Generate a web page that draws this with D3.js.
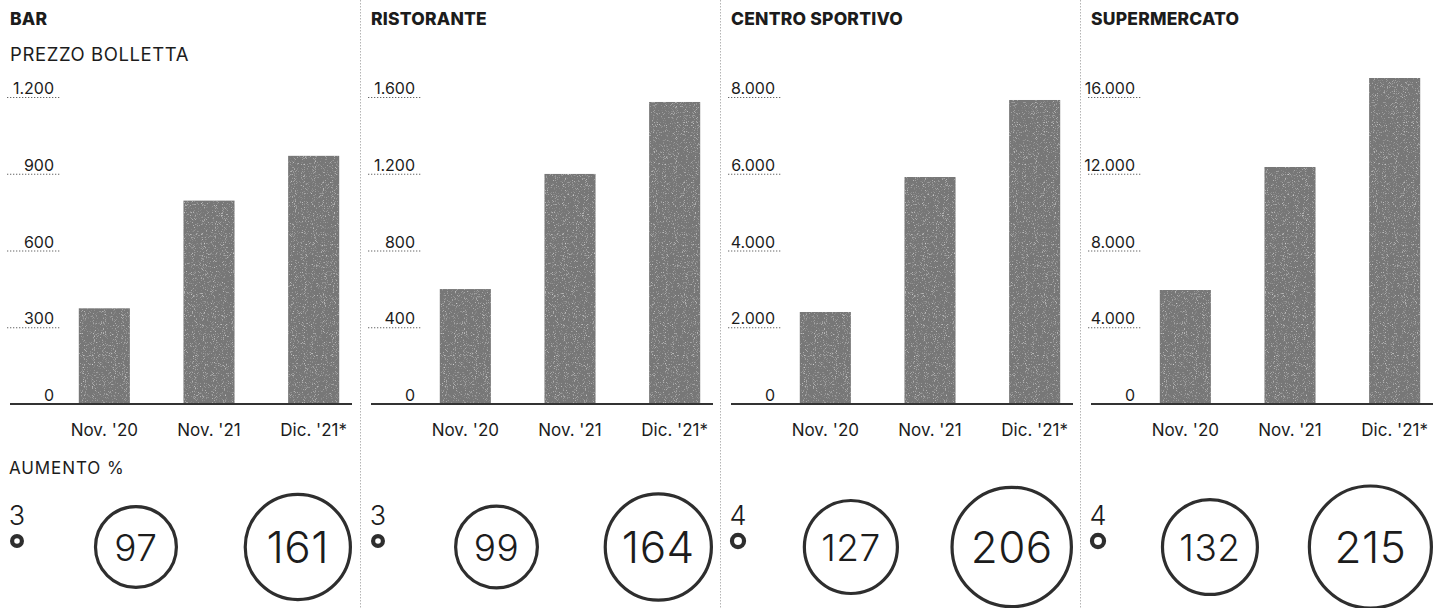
<!DOCTYPE html>
<html>
<head>
<meta charset="utf-8">
<script src="https://cdn.jsdelivr.net/npm/d3@7"></script>
<style>
  html, body { margin: 0; padding: 0; background: #fff; }
  svg { display: block; }
  text { font-family: "Inter", "Noto Sans", sans-serif; fill: #1c1c1c; }
</style>
</head>
<body>
<svg id="chart" width="1442" height="608"></svg>
<script>
// ---------- DATA ----------
const panelTitles = ["BAR", "RISTORANTE", "CENTRO SPORTIVO", "SUPERMERCATO"];
const categories = ["Nov. '20", "Nov. '21", "Dic. '21*"];

const barValues         = [374, 795, 970];
const ristoranteValues  = [599, 1199, 1574];
const centroValues      = [2397, 5915, 7922];
const supermercatoValues = [5941, 12352, 16990];

const barTicks          = [0, 300, 600, 900, 1200];
const ristoranteTicks   = [0, 400, 800, 1200, 1600];
const centroTicks       = [0, 2000, 4000, 6000, 8000];
const supermercatoTicks = [0, 4000, 8000, 12000, 16000];

const barPct          = [3, 97, 161];
const ristorantePct   = [3, 99, 164];
const centroPct       = [4, 127, 206];
const supermercatoPct = [4, 132, 215];

const subtitlePrice = "PREZZO BOLLETTA";
const subtitlePct = "AUMENTO %";

// ---------- LAYOUT ----------
const W = 1442, H = 608;
const panelW = 360;
const yBase = 404, yTop = 97;

const svg = d3.select("#chart");
const fmt = d3.formatLocale({ decimal: ",", thousands: ".", grouping: [3], currency: ["€", ""] }).format(",d");

const defs = svg.append("defs");
const filt = defs.append("filter").attr("id", "grain").attr("x", 0).attr("y", 0).attr("width", "100%").attr("height", "100%");
filt.append("feTurbulence").attr("type", "fractalNoise").attr("baseFrequency", 1.1).attr("numOctaves", 2).attr("seed", 4).attr("result", "noise");
filt.append("feColorMatrix").attr("in", "noise").attr("type", "matrix")
  .attr("values", "0 0 0 0 0.72  0 0 0 0 0.72  0 0 0 0 0.72  2.6 0 0 0 -1.5").attr("result", "speck");
filt.append("feComposite").attr("in", "speck").attr("in2", "SourceGraphic").attr("operator", "in").attr("result", "s2");
const merge = filt.append("feMerge");
merge.append("feMergeNode").attr("in", "SourceGraphic");
merge.append("feMergeNode").attr("in", "s2");

const panels = [
  { title: panelTitles[0], values: barValues, ticks: barTicks, pct: barPct },
  { title: panelTitles[1], values: ristoranteValues, ticks: ristoranteTicks, pct: ristorantePct },
  { title: panelTitles[2], values: centroValues, ticks: centroTicks, pct: centroPct },
  { title: panelTitles[3], values: supermercatoValues, ticks: supermercatoTicks, pct: supermercatoPct }
];

const allPct = [].concat(barPct, ristorantePct, centroPct, supermercatoPct);
const rScale = d3.scaleSqrt().domain([0, d3.max(allPct)]).range([0, 4.27 * Math.sqrt(d3.max(allPct))]);

// separators
for (let i = 1; i < panels.length; i++) {
  svg.append("line")
    .attr("x1", i * panelW + 0.5).attr("x2", i * panelW + 0.5)
    .attr("y1", 0).attr("y2", H)
    .attr("stroke", "#b5b5b5").attr("stroke-width", 1)
    .attr("stroke-dasharray", "1.5,1.5");
}

panels.forEach((p, i) => {
  const x0 = i * panelW + (i > 0 ? 1 : 0);
  const g = svg.append("g").attr("transform", `translate(${x0},0)`);

  // title
  g.append("text").attr("x", 10).attr("y", 25)
    .attr("font-size", 17.5).attr("font-weight", 800).attr("letter-spacing", 0.2).text(p.title);

  if (i === 0) {
    g.append("text").attr("x", 10).attr("y", 61)
      .attr("font-size", 18.5).attr("font-weight", 400).attr("letter-spacing", 0.6).text(subtitlePrice);
    g.append("text").attr("x", 9).attr("y", 474)
      .attr("font-size", 17).attr("font-weight", 400).attr("letter-spacing", 0.9).text(subtitlePct);
  }

  const y = d3.scaleLinear().domain([0, d3.max(p.ticks)]).range([yBase, yTop]);
  const x = d3.scaleBand().domain(categories).range([52, 366]).paddingInner(0.512).paddingOuter(0.256);

  // tick lines (dotted) + labels
  const nonZero = p.ticks.filter(t => t > 0);
  g.selectAll("line.tick").data(nonZero).join("line")
    .attr("class", "tick")
    .attr("x1", 7).attr("x2", 61)
    .attr("y1", d => y(d) + 0.5).attr("y2", d => y(d) + 0.5)
    .attr("stroke", "#666").attr("stroke-width", 1.2)
    .attr("stroke-dasharray", "1.3,1.7");
  g.selectAll("text.tick").data(p.ticks).join("text")
    .attr("class", "tick")
    .attr("x", 54).attr("y", d => y(d) - 3)
    .attr("text-anchor", "end")
    .attr("font-size", 16)
    .text(d => fmt(d));

  // bars
  g.selectAll("rect.bar").data(p.values).join("rect")
    .attr("class", "bar")
    .attr("x", (d, j) => x(categories[j]))
    .attr("width", x.bandwidth())
    .attr("y", d => y(d))
    .attr("height", d => yBase - y(d))
    .attr("fill", "#777777")
    .attr("filter", "url(#grain)");

  // baseline
  g.append("line").attr("x1", 10).attr("x2", 352)
    .attr("y1", yBase).attr("y2", yBase)
    .attr("stroke", "#333").attr("stroke-width", 2);

  // category labels
  g.selectAll("text.cat").data(categories).join("text")
    .attr("class", "cat")
    .attr("x", d => x(d) + x.bandwidth() / 2)
    .attr("y", 436)
    .attr("text-anchor", "middle")
    .attr("font-size", 17)
    .text(d => d);

  // percent circles
  const anchors = [null, 178, 352];
  const fontSizes = [27, 37, 44];
  p.pct.forEach((v, j) => {
    const r = rScale(v);
    if (j === 0) {
      const cx = 17, cy = 541;
      g.append("circle").attr("cx", cx).attr("cy", cy).attr("r", r - 2.5)
        .attr("fill", "none").attr("stroke", "#2e2e2e").attr("stroke-width", 4.2);
      g.append("text").attr("x", cx).attr("y", 525).attr("text-anchor", "middle")
        .attr("font-size", fontSizes[0]).attr("font-weight", 300).text(v);
    } else {
      const cx = anchors[j] - r, cy = 547;
      g.append("circle").attr("cx", cx).attr("cy", cy).attr("r", r - 1.6)
        .attr("fill", "none").attr("stroke", "#2e2e2e").attr("stroke-width", 3.2);
      g.append("text").attr("x", cx).attr("y", cy).attr("text-anchor", "middle")
        .attr("dominant-baseline", "central")
        .attr("font-size", fontSizes[j]).attr("font-weight", 300).attr("letter-spacing", 0.5).text(v);
    }
  });
});
</script>
</body>
</html>
